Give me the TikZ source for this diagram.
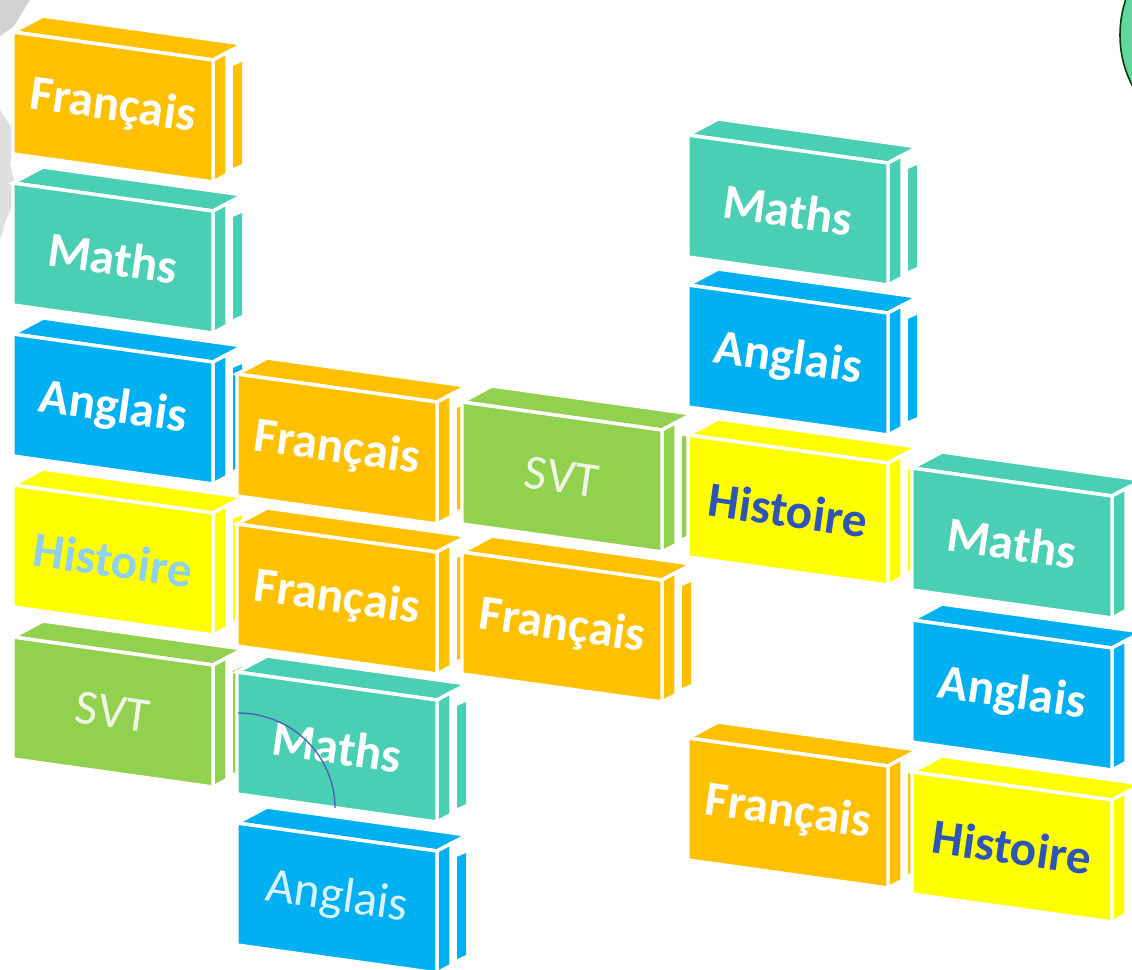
\documentclass[tikz,border=0pt]{standalone}
\usepackage{fontspec}
\setmainfont{Carlito-Regular.ttf}[BoldFont=Carlito-Bold.ttf]
\definecolor{cOr}{HTML}{FFC000}
\definecolor{cTe}{HTML}{4ACEB4}
\definecolor{cBl}{HTML}{00B0F0}
\definecolor{cYe}{HTML}{FFFF00}
\definecolor{cGr}{HTML}{92D050}
\definecolor{hblue}{HTML}{2E55B5}
\definecolor{hlight}{HTML}{8FD0EE}
\definecolor{arcblue}{HTML}{4A5FB0}
\definecolor{blobgreen}{HTML}{62D69E}
\tikzset{
  face/.style={draw=white, line width=2.6pt, line join=miter},
  lbl/.style={rotate=-8, inner sep=0pt},
  bw/.style={font=\bfseries\fontsize{37}{37}\selectfont, text=white},
  thinw/.style={font=\fontsize{37}{37}\selectfont, text=white, opacity=0.85},
  hdark/.style={font=\bfseries\fontsize{37}{37}\selectfont, text=hblue},
  hlt/.style={font=\bfseries\fontsize{37}{37}\selectfont, text=hlight},
}
\newcommand\blk[6]{%
  \begin{scope}[shift={(#1,#2)}]
    \path[fill=#3, face] (0,0) -- (30,-16) -- (230,12) -- (200,28) -- cycle;
    \path[fill=#3, face] (200,28) -- (214,20.5) -- (214,142.5) -- (200,150) -- cycle;
    \path[fill=#3] (220,34) -- (229,30) -- (229,132) -- (220,136) -- cycle;
    \path[fill=#3, face] (0,0) -- (200,28) -- (200,150) -- (0,122) -- cycle;
    \node[lbl, #5] (#4) at (100,75) {#6};
  \end{scope}}
\begin{document}
\begin{tikzpicture}[x=0.75pt, y=-0.75pt]
  \useasboundingbox (0,0) rectangle (1132,970);
  \clip (0,0) rectangle (1132,970);
  % background decorations
  \fill[gray!35] (0,0) -- (30,0) -- (14,26) -- (0,36) -- cycle;
  \fill[gray!25] (0,110) -- (16,135) -- (10,165) -- (18,195) -- (6,220) -- (0,240) -- cycle;
  \path[fill=blobgreen, draw=black!75!green, line width=1.2pt] (1190,35) ellipse [x radius=70, y radius=89];
  % column 1
  \blk{13}{32}{cOr}{f1}{bw}{Français}
  \blk{13}{183}{cTe}{m1}{bw}{Maths}
  \blk{13}{334}{cBl}{a1}{bw}{Anglais}
  \blk{13}{485}{cYe}{h1}{hlt}{Histoire}
  \blk{13}{637}{cGr}{s1}{thinw}{SVT}
  % column 2
  \blk{237}{374}{cOr}{f2}{bw}{Français}
  \blk{237}{524}{cOr}{f3}{bw}{Français}
  \blk{237}{672}{cTe}{m2}{bw}{Maths}
  \blk{237}{823}{cBl}{a2}{thinw}{Anglais}
  % column 3
  \blk{462}{402}{cGr}{s2}{thinw}{SVT}
  \blk{462}{552}{cOr}{f4}{bw}{Français}
  % column 4
  \blk{688}{135}{cTe}{m3}{bw}{Maths}
  \blk{688}{285}{cBl}{a3}{bw}{Anglais}
  \blk{688}{435}{cYe}{h2}{hdark}{Histoire}
  \blk{688}{738}{cOr}{f5}{bw}{Français}
  % column 5
  \blk{912}{468}{cTe}{m4}{bw}{Maths}
  \blk{912}{620}{cBl}{a4}{bw}{Anglais}
  \blk{912}{772}{cYe}{h3}{hdark}{Histoire}
  % thin arc
  \draw[arcblue, line width=1pt] (238,713) .. controls (292,713) and (335,756) .. (335,808);
\end{tikzpicture}
\end{document}
